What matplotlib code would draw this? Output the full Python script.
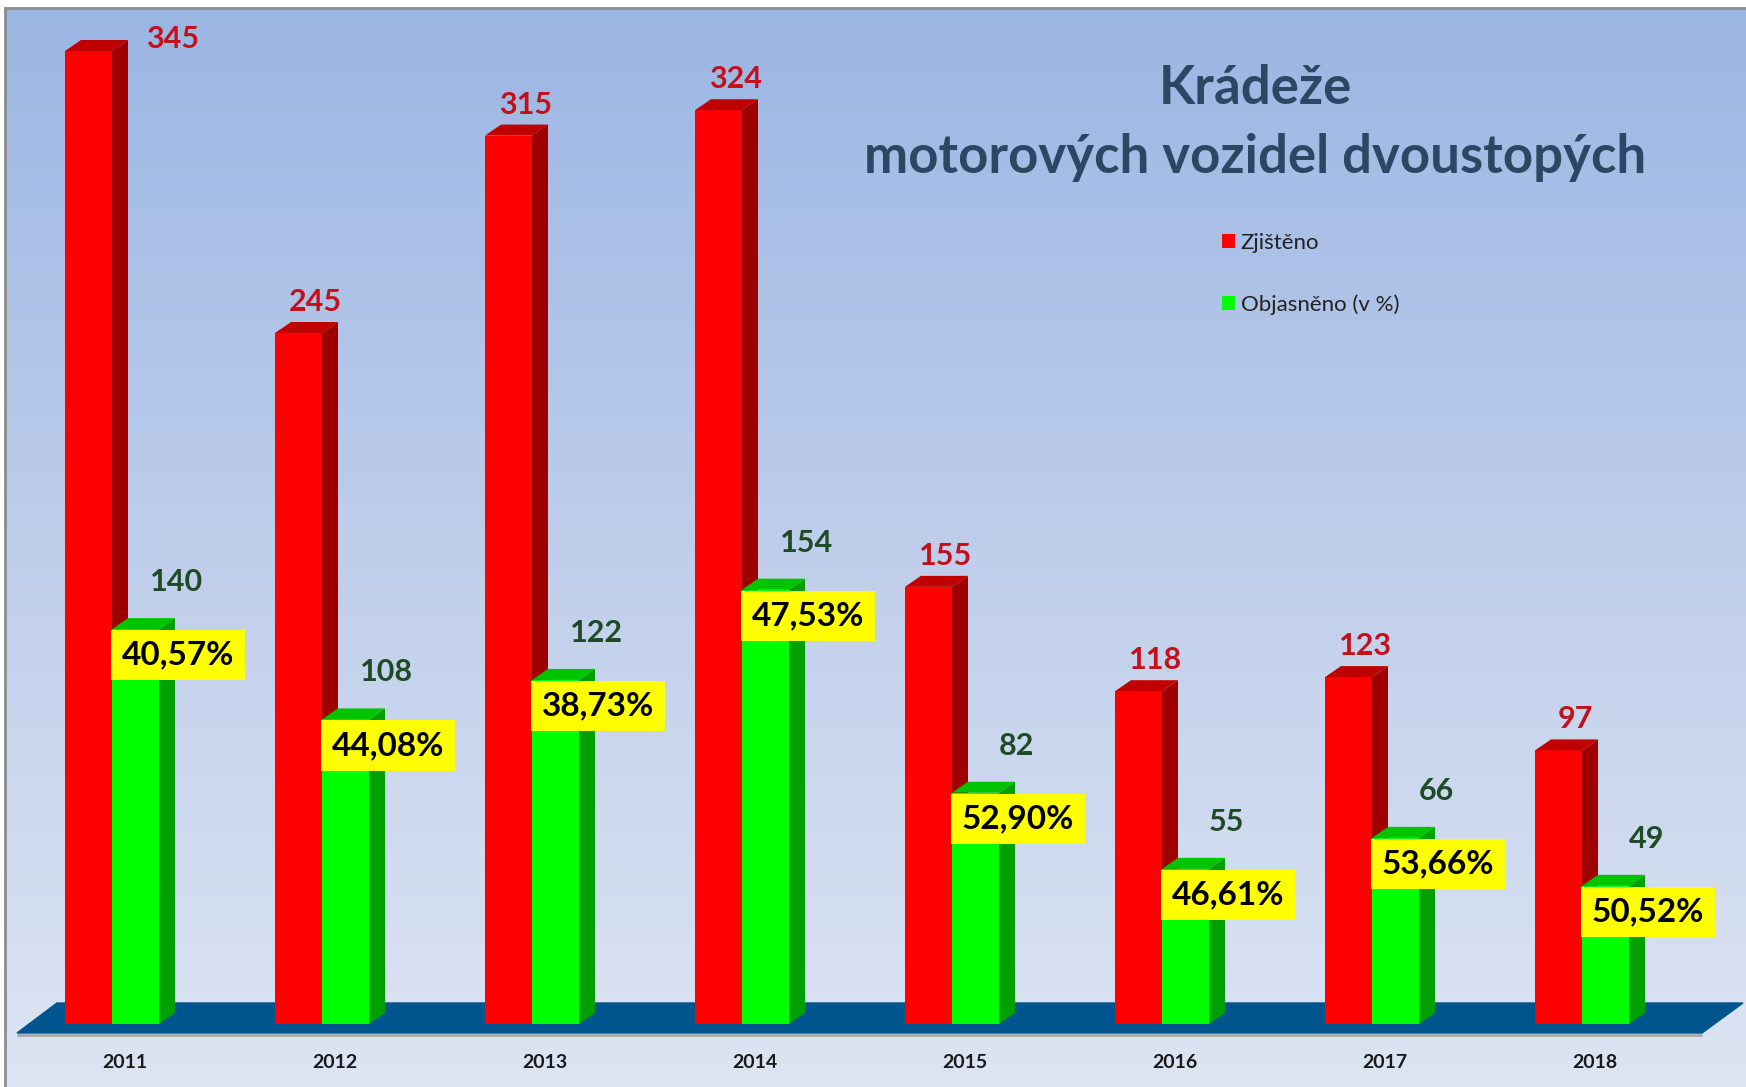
import numpy as np
import matplotlib
matplotlib.use("Agg")
import matplotlib.pyplot as plt
from matplotlib.patches import Polygon, Patch
from matplotlib.colors import LinearSegmentedColormap

# ---- data ----
years = ["2011", "2012", "2013", "2014", "2015", "2016", "2017", "2018"]
zjisteno = [345, 245, 315, 324, 155, 118, 123, 97]
objasneno = [140, 108, 122, 154, 82, 55, 66, 49]
procenta = ["40,57%", "44,08%", "38,73%", "47,53%", "52,90%", "46,61%", "53,66%", "50,52%"]
title_lines = ["Krádeže", "motorových vozidel dvoustopých"]
legend_labels = ["Zjištěno", "Objasněno (v %)"]

plt.rcParams["font.family"] = ["Lato", "DejaVu Sans"]

W, H = 1746, 1087
fig = plt.figure(figsize=(W / 100, H / 100), dpi=100)
fig.patch.set_facecolor("white")

# background gradient panel
bg = fig.add_axes([5 / W, 0, 1 - 5 / W, 1 - 8 / H])
cmap = LinearSegmentedColormap.from_list("bg", ["#DDE5F3", "#BFCEEB", "#9BB6E3"])
grad = np.linspace(0, 1, 256).reshape(-1, 1)
bg.imshow(grad, aspect="auto", cmap=cmap, origin="lower", extent=[0, 1, 0, 1])
bg.set_xticks([])
bg.set_yticks([])
for s in ["right", "bottom"]:
    bg.spines[s].set_visible(False)
for s in ["left", "top"]:
    bg.spines[s].set_color("#8C8C8C")
    bg.spines[s].set_linewidth(2)

# main axes in data units
ax = fig.add_axes([0, 0, 1, 1])
ax.patch.set_alpha(0)
ax.axis("off")
px_x = 210.0      # pixels per category
px_y = 2.8203     # pixels per unit
ax.set_xlim(-112 / px_x, (W - 112) / px_x)
ax.set_ylim(-(H - 1024) / px_y, 1024 / px_y)

n = len(years)
x = np.arange(n)
w = 47 / px_x
ddx = 16 / px_x
ddy = 11 / px_y

# floor
fb, ff = 21 / px_y, -9 / px_y
floor = Polygon([(-55 / px_x, fb), ((W - 3 - 112) / px_x, fb),
                 ((1702 - 112) / px_x, ff), ((17 - 112) / px_x, ff)],
                closed=True, facecolor="#00558E", edgecolor="#00558E", zorder=1)
ax.add_patch(floor)
ax.plot([(17 - 112) / px_x, (1702 - 112) / px_x], [ff - 0.6, ff - 0.6],
        color="#A8A8A8", lw=2, zorder=0.9, solid_capstyle="butt")

RED, RED_TOP, RED_SIDE = "#FF0000", "#C00000", "#9E0000"
GRN, GRN_TOP, GRN_SIDE = "#00FF00", "#00C400", "#00A000"

ax.bar(x - w / 2, zjisteno, width=w, color=RED, zorder=2, linewidth=0)
for i, r in enumerate(zjisteno):
    ax.add_patch(Polygon([(i, 0), (i + ddx, ddy), (i + ddx, r + ddy), (i, r)],
                         facecolor=RED_SIDE, edgecolor="none", zorder=2))
    ax.add_patch(Polygon([(i - w, r), (i - w + ddx, r + ddy), (i + ddx, r + ddy), (i, r)],
                         facecolor=RED_TOP, edgecolor="none", zorder=2))

ax.bar(x + w / 2, objasneno, width=w, color=GRN, zorder=3, linewidth=0)
for i, g in enumerate(objasneno):
    ax.add_patch(Polygon([(i + w, 0), (i + w + ddx, ddy), (i + w + ddx, g + ddy), (i + w, g)],
                         facecolor=GRN_SIDE, edgecolor="none", zorder=3))
    ax.add_patch(Polygon([(i, g), (i + ddx, g + ddy), (i + w + ddx, g + ddy), (i + w, g)],
                         facecolor=GRN_TOP, edgecolor="none", zorder=3))

# value labels
top_limit = 1024 / px_y
for i, r in enumerate(zjisteno):
    off = (17, 31)
    if r + (31 + 30) / px_y > top_limit:
        off = (84, 12)
    ax.annotate(str(r), xy=(i - w / 2, r), xytext=off, textcoords="offset pixels",
                ha="center", va="center", fontsize=22, fontweight="bold",
                color="#C3101A", zorder=6)
for i, g in enumerate(objasneno):
    ax.annotate(str(g), xy=(i + w / 2, g), xytext=(41, 47), textcoords="offset pixels",
                ha="center", va="center", fontsize=22, fontweight="bold",
                color="#1E4B26", zorder=6)
    ax.annotate(procenta[i], xy=(i, g), xytext=(66, -26), textcoords="offset pixels",
                ha="center", va="center", fontsize=24, fontweight="bold",
                color="black", zorder=7,
                bbox=dict(boxstyle="square,pad=0.32", facecolor="#FFFF00", edgecolor="none"))

# year labels
for i, yl in enumerate(years):
    ax.text(i + 13 / px_x, -39 / px_y, yl, ha="center", va="center",
            fontsize=14, fontweight="bold", color="#1A1A1A", zorder=6)

# title
fig.text(1255 / W, 1 - 88 / H, title_lines[0], ha="center", va="center",
         fontsize=38, fontweight="bold", color="#2B4764")
fig.text(1255 / W, 1 - 157 / H, title_lines[1], ha="center", va="center",
         fontsize=38, fontweight="bold", color="#2B4764")

# legend
handles = [Patch(facecolor=RED, edgecolor="none"), Patch(facecolor=GRN, edgecolor="none")]
leg = fig.legend(handles, legend_labels, loc="upper left",
                 bbox_to_anchor=(1222 / W, 1 - 233 / H), frameon=False,
                 fontsize=16, handlelength=0.6, handleheight=0.6,
                 handletextpad=0.25, labelspacing=1.85, borderpad=0, borderaxespad=0)
for t in leg.get_texts():
    t.set_color("#222222")

fig.savefig("out.png", dpi=100)
